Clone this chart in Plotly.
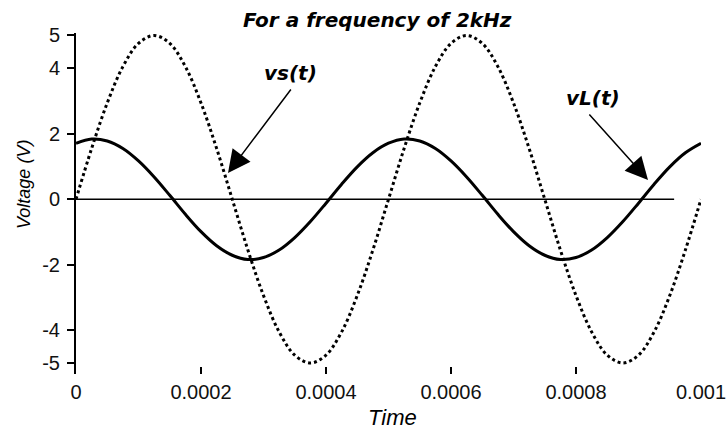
import plotly.graph_objects as go

# Time samples (s), every 25 microseconds from 0 to 1 ms
time_s = [i * 0.000025 for i in range(41)]

# Source voltage vs(t) (V)
vs_values = [0.00, 1.55, 2.94, 4.05, 4.76, 5.00, 4.76, 4.05, 2.94, 1.55,
             0.00, -1.55, -2.94, -4.05, -4.76, -5.00, -4.76, -4.05, -2.94, -1.55,
             0.00, 1.55, 2.94, 4.05, 4.76, 5.00, 4.76, 4.05, 2.94, 1.55,
             0.00, -1.55, -2.94, -4.05, -4.76, -5.00, -4.76, -4.05, -2.94, -1.55,
             0.00]

# Load voltage vL(t) (V)
vl_values = [1.71, 1.84, 1.78, 1.55, 1.17, 0.68, 0.12, -0.46, -0.99, -1.42,
             -1.71, -1.84, -1.78, -1.55, -1.17, -0.68, -0.12, 0.46, 0.99, 1.42,
             1.71, 1.84, 1.78, 1.55, 1.17, 0.68, 0.12, -0.46, -0.99, -1.42,
             -1.71, -1.84, -1.78, -1.55, -1.17, -0.68, -0.12, 0.46, 0.99, 1.42,
             1.71]

# Zero reference line
zero_t = [0.0, 0.000957]
zero_v = [0.0, 0.0]

x_ticks = [0, 0.0002, 0.0004, 0.0006, 0.0008, 0.001]
x_tick_labels = ["0", "0.0002", "0.0004", "0.0006", "0.0008", "0.001"]
y_ticks = [5, 4, 2, 0, -2, -4, -5]
y_tick_labels = ["5", "4", "2", "0", "-2", "-4", "-5"]

fig = go.Figure()
fig.add_trace(go.Scatter(x=zero_t, y=zero_v, mode="lines",
                         line=dict(color="black", width=1.5), hoverinfo="skip"))
fig.add_trace(go.Scatter(x=time_s, y=vs_values, mode="lines", name="vs(t)",
                         line=dict(color="black", width=3, dash="dot", shape="spline")))
fig.add_trace(go.Scatter(x=time_s, y=vl_values, mode="lines", name="vL(t)",
                         line=dict(color="black", width=3, shape="spline")))

tick_font = dict(family="Liberation Sans, Arial, sans-serif", size=20, color="#111")
label_font = dict(family="DejaVu Sans, Verdana, sans-serif", size=20, color="black")

fig.update_layout(
    width=727, height=434,
    margin=dict(l=76, r=26, t=33, b=60, autoexpand=False),
    paper_bgcolor="white", plot_bgcolor="white",
    showlegend=False,
    xaxis=dict(range=[0, 0.001], tickvals=x_ticks, ticktext=x_tick_labels,
               showgrid=False, zeroline=False, showline=False, automargin=False,
               ticks="inside", ticklen=7, tickwidth=1.5, tickcolor="black",
               tickfont=tick_font, ticklabelstandoff=4),
    yaxis=dict(range=[-5.336, 5.076], tickvals=y_ticks, ticktext=y_tick_labels,
               showgrid=False, zeroline=False, showline=True, linecolor="black",
               linewidth=2, ticks="outside", ticklen=7, tickwidth=1.5, automargin=False,
               tickcolor="black", tickfont=tick_font, ticklabelstandoff=3),
    annotations=[
        dict(text="<b><i>For a frequency of 2kHz</i></b>", xref="paper", yref="paper",
             x=(377 - 76) / 625, y=1 + (33 - 20) / 341, showarrow=False,
             xanchor="center", yanchor="middle", font=label_font),
        dict(text="<i>Time</i>", xref="paper", yref="paper",
             x=(392 - 76) / 625, y=-(418 - 374) / 341, showarrow=False,
             xanchor="center", yanchor="middle",
             font=dict(family="Liberation Sans, Arial, sans-serif", size=22, color="black")),
        dict(text="<i>Voltage (V)</i>", xref="paper", yref="paper",
             x=-(76 - 24) / 625, y=(374 - 185) / 341, showarrow=False,
             xanchor="center", yanchor="middle", textangle=-90,
             font=dict(family="Liberation Sans, Arial, sans-serif", size=18, color="black")),
        dict(text="<b><i>vs(t)</i></b>", x=0.0003424, y=3.85, showarrow=False,
             xanchor="center", yanchor="middle", font=label_font),
        dict(text="<b><i>vL(t)</i></b>", x=0.0008272, y=3.09, showarrow=False,
             xanchor="center", yanchor="middle", font=label_font),
        dict(text="", x=0.0002432, y=0.80, ax=64, ay=-85, showarrow=True,
             arrowhead=2, arrowsize=3, arrowwidth=1.5, arrowcolor="black", standoff=0),
        dict(text="", x=0.0009152, y=0.59, ax=-60, ay=-67, showarrow=True,
             arrowhead=2, arrowsize=3, arrowwidth=1.5, arrowcolor="black", standoff=0),
    ],
)

# Remove the page's default body margin so the figure fills the window exactly.
fig.write_html("out.html",
               config={"displayModeBar": False},
               post_script="document.body.style.margin='0px';document.body.style.overflow='hidden';")
